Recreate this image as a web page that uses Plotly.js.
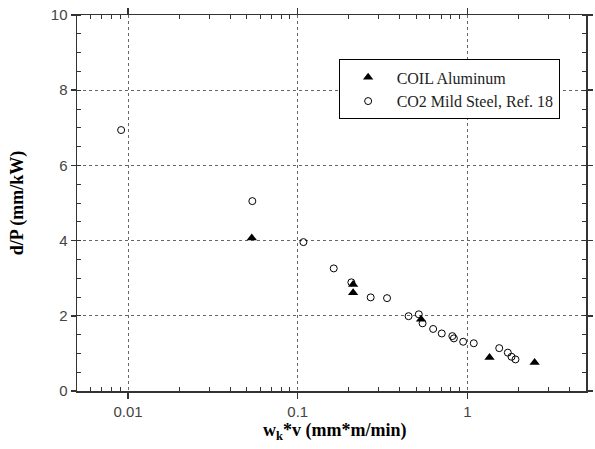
<!DOCTYPE html>
<html>
<head>
<meta charset="utf-8">
<script src="https://cdn.plot.ly/plotly-3.0.1.min.js"></script>
<style>html,body{margin:0;padding:0;background:#fff;}#chart{width:595px;height:449px;}</style>
</head>
<body>
<div id="chart"></div>
<script>
// COIL Aluminum (filled triangles)
const coilX = [0.0536, 0.212, 0.212, 0.533, 1.35, 2.49];
const coilY = [4.07, 2.83, 2.61, 1.91, 0.89, 0.76];

// CO2 Mild Steel, Ref. 18 (open circles)
const co2X = [0.0091, 0.054, 0.108, 0.163, 0.207, 0.269, 0.336, 0.450, 0.517, 0.544,
              0.628, 0.706, 0.815, 0.832, 0.944, 1.09, 1.54, 1.73, 1.82, 1.92];
const co2Y = [6.94, 5.05, 3.96, 3.26, 2.89, 2.49, 2.47, 1.99, 2.04, 1.80,
              1.65, 1.53, 1.46, 1.40, 1.31, 1.27, 1.14, 1.02, 0.91, 0.84];

const seriesNames = ['COIL Aluminum', 'CO2 Mild Steel, Ref. 18'];
const xTickVals = [0.01, 0.1, 1];
const xTickText = ['0.01', '0.1', '1'];
const xTitle = 'w<sub>k</sub>*v (mm*m/min)';
const yTitle = 'd/P (mm/kW)';

const xMin = 0.005, xMax = 5;
const minorX = [];
for (let d = 0.001; d < 10; d *= 10) {
  for (let k = 2; k <= 9; k++) {
    const v = +(k * d).toPrecision(3);
    if (v > xMin && v < xMax) minorX.push(v);
  }
}

const axisCol = '#333';
const tickFont = {family: 'Liberation Sans, Arial, sans-serif', size: 15, color: '#444'};
const titleFont = {family: 'Liberation Serif, Times New Roman, serif', size: 18, color: '#000', weight: 'bold'};

const traces = [
  {x: coilX, y: coilY, name: seriesNames[0], type: 'scatter', mode: 'markers',
   marker: {symbol: 'triangle-up', size: 9, color: '#000'}},
  {x: co2X, y: co2Y, name: seriesNames[1], type: 'scatter', mode: 'markers',
   marker: {symbol: 'circle-open', size: 7, color: '#000', line: {width: 1, color: '#000'}}}
];

const layout = {
  width: 595, height: 449,
  margin: {l: 77, r: 2, t: 15, b: 58},
  paper_bgcolor: '#fff', plot_bgcolor: '#fff',
  showlegend: true,
  legend: {
    x: 0.514, y: 0.882, xanchor: 'left', yanchor: 'top',
    bgcolor: '#fff', bordercolor: '#000', borderwidth: 1,
    font: {family: 'Liberation Serif, Times New Roman, serif', size: 16, color: '#222'},
    itemwidth: 47, tracegroupgap: 0
  },
  annotations: [{
    text: xTitle, xref: 'paper', yref: 'paper', x: 0.506, y: -0.074,
    xanchor: 'center', yanchor: 'top', showarrow: false, font: titleFont, borderpad: 0
  }],
  xaxis: {
    type: 'log', range: [Math.log10(xMin), Math.log10(xMax)],
    tickmode: 'array', tickvals: xTickVals, ticktext: xTickText,
    ticks: 'outside', ticklen: 6, tickwidth: 1.5, tickcolor: axisCol,
    showline: true, linecolor: axisCol, linewidth: 1.5, mirror: 'ticks',
    showgrid: true, gridcolor: '#666', griddash: 'dot', gridwidth: 1,
    zeroline: false, tickfont: tickFont,
    minor: {tickmode: 'array', tickvals: minorX, ticks: 'inside', ticklen: 4, tickwidth: 1, tickcolor: axisCol, showgrid: false}
  },
  yaxis: {
    range: [0, 10], tickmode: 'linear', tick0: 0, dtick: 2,
    ticks: 'outside', ticklen: 5, tickwidth: 1.5, tickcolor: axisCol,
    showline: true, linecolor: axisCol, linewidth: 1.5, mirror: 'ticks',
    showgrid: true, gridcolor: '#666', griddash: 'dot', gridwidth: 1,
    zeroline: false, tickfont: tickFont,
    minor: {dtick: 0.5, ticks: 'inside', ticklen: 4, tickwidth: 1, tickcolor: axisCol, showgrid: false},
    title: {text: yTitle, font: titleFont, standoff: 22},
    automargin: true
  },
  xaxis2: {
    type: 'log', range: [Math.log10(xMin), Math.log10(xMax)], overlaying: 'x', anchor: 'y',
    tickmode: 'array', tickvals: xTickVals, ticks: 'inside', ticklen: 8, tickwidth: 1.5,
    tickcolor: axisCol, mirror: 'ticks', showline: false, showgrid: false,
    showticklabels: false, zeroline: false
  },
  yaxis2: {
    range: [0, 10], overlaying: 'y', anchor: 'x', tickmode: 'linear', tick0: 0, dtick: 2,
    ticks: 'inside', ticklen: 8, tickwidth: 1.5, tickcolor: axisCol, mirror: 'ticks',
    showline: false, showgrid: false, showticklabels: false, zeroline: false
  }
};

Plotly.newPlot('chart', traces, layout, {staticPlot: true, displayModeBar: false});
</script>
</body>
</html>
